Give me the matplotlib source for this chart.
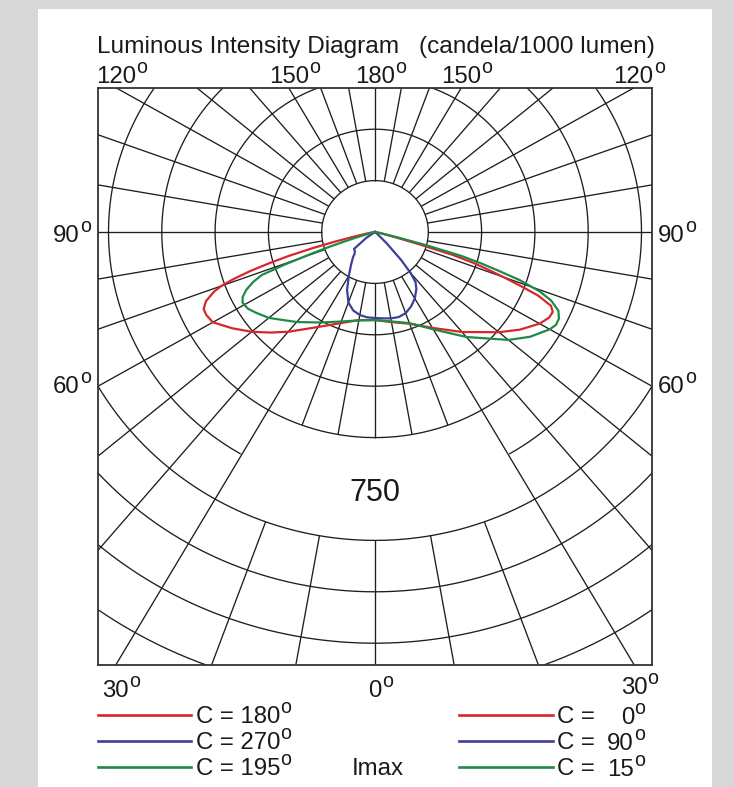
import numpy as np
import matplotlib
matplotlib.use('Agg')
from matplotlib import pyplot as plt
from matplotlib.lines import Line2D
from matplotlib.patches import Rectangle

"""
    Luminous intensity diagram: polar curves (cd/1000 lm) over a clipped polar grid.
    gamma is measured from the nadir, C planes left / right of the vertical.
"""

# left half (C = 180, 270, 195) and right half (C = 0, 90, 15)
C180_GAMMA = [0, 10, 20, 30, 40, 45, 50, 55, 60, 63, 65, 67, 69, 70, 71, 72, 73, 74, 75, 76, 77, 79, 82, 90]
C180_CD = [257, 261, 283, 320, 380, 415, 453, 490, 527, 533, 532, 517, 485, 460, 420, 370, 310, 250, 180, 115, 65, 25, 8, 0]
C0_GAMMA = [0, 10, 20, 30, 40, 50, 55, 60, 63, 65, 66.5, 68, 69, 70, 71, 72, 73, 74, 75, 77, 80, 90]
C0_CD = [257, 267, 285, 323, 381, 455, 497, 535, 550, 552, 540, 495, 438, 385, 335, 290, 230, 120, 60, 20, 5, 0]

C270_GAMMA = [0, 5, 10, 15, 20, 25, 30, 35, 38, 40, 42, 45, 50, 55, 60]
C270_CD = [251, 250, 246, 237, 219, 186, 147, 118, 104, 96, 86, 80, 77, 30, 0]
C90_GAMMA = [0, 5, 10, 15, 20, 25, 30, 35, 38, 40, 42, 45, 48, 50]
C90_CD = [251, 253, 256, 257, 252, 240, 224, 203, 185, 155, 110, 45, 10, 0]

C195_GAMMA = [0, 10, 20, 30, 40, 50, 55, 58, 61, 63, 65, 67, 68.5, 69.5, 70.5, 71.5, 73, 76, 90]
C195_CD = [257, 262, 278, 305, 343, 390, 410, 422, 426, 418, 400, 372, 342, 270, 190, 130, 60, 10, 0]
C15_GAMMA = [0, 10, 20, 30, 40, 50, 55, 60, 62, 64, 66, 68, 69.5, 71, 72, 73, 74, 75, 76, 78, 90]
C15_CD = [257, 265, 283, 328, 400, 490, 533, 568, 577, 576, 565, 535, 495, 430, 365, 310, 250, 150, 70, 15, 0]

LEFT_NAMES = ['C = 180', 'C = 270', 'C = 195']
RIGHT_NAMES = ['0', '90', '15']
COLORS = ['#d8262e', '#3d3f98', '#1f8a45']

RING = 150          # cd/1000 lm per ring
RING_COUNT = 10
SPOKE_STEP = 10
LABEL_RING = 5      # ring that carries the '750' label
BLANK_HALF = 30     # the label window spans +-30 deg around the nadir

TOP_LABELS = [120, 150, 180, 150, 120]
TOP_GAMMA = [-120, -150, 180, 150, 120]

W, H = 734, 787
FONT = 'Liberation Sans'
SIZE = 17.3
INK = '#1a1a1a'

# frame and pole in pixels, px per ring (the original print is a bit wider than tall)
BOX = (98, 88, 652, 665)
POLE = (375, 232)
SX, SY = 53.3, 51.4

fig = plt.figure(figsize=(W / 100, H / 100), dpi=100, facecolor='#d8d8d8')
fig.add_artist(Rectangle((38 / W, 0), (712 - 38) / W, 1 - 9 / H, transform=fig.transFigure,
                         facecolor='white', edgecolor='none', zorder=0))

ax = fig.add_axes([BOX[0] / W, 1 - BOX[3] / H, (BOX[2] - BOX[0]) / W, (BOX[3] - BOX[1]) / H])
ax.set_xlim((BOX[0] - POLE[0]) / SX * RING, (BOX[2] - POLE[0]) / SX * RING)
ax.set_ylim(-(BOX[3] - POLE[1]) / SY * RING, (POLE[1] - BOX[1]) / SY * RING)
ax.set_xticks([])
ax.set_yticks([])
for s in ax.spines.values():
    s.set_color('#333333')
    s.set_linewidth(1.3)

grid_kw = dict(color='#1e1e1e', lw=0.95, zorder=1, solid_capstyle='butt')

# rings
t = np.radians(np.linspace(-180, 180, 1441))
for k in range(1, RING_COUNT + 1):
    x = k * RING * np.sin(t)
    y = -k * RING * np.cos(t)
    if k == LABEL_RING:
        x = np.where(np.abs(np.degrees(t)) < BLANK_HALF, np.nan, x)
    ax.plot(x, y, **grid_kw)

# spokes, starting at the first ring, with a gap where the label sits
for g in range(-180 + SPOKE_STEP, 180 + SPOKE_STEP, SPOKE_STEP):
    a = np.radians(g)
    if abs(g) < BLANK_HALF:
        spans = [(1, LABEL_RING - 1), (LABEL_RING + 1, 2 * RING_COUNT)]
    else:
        spans = [(1, 2 * RING_COUNT)]
    for r0, r1 in spans:
        r = np.array([r0, r1]) * RING
        ax.plot(r * np.sin(a), -r * np.cos(a), **grid_kw)

ax.text(0, -LABEL_RING * RING - 12, str(LABEL_RING * RING), ha='center', va='center',
        fontsize=22, family=FONT, color=INK)


def curve(left_g, left_cd, right_g, right_cd):
    gl = np.radians(left_g)[::-1]
    cl = np.array(left_cd, float)[::-1]
    gr = np.radians(right_g)
    cr = np.array(right_cd, float)
    x = np.concatenate([-cl * np.sin(gl), cr * np.sin(gr)])
    y = np.concatenate([-cl * np.cos(gl), -cr * np.cos(gr)])
    return x, y


curves = [(C180_GAMMA, C180_CD, C0_GAMMA, C0_CD),
          (C270_GAMMA, C270_CD, C90_GAMMA, C90_CD),
          (C195_GAMMA, C195_CD, C15_GAMMA, C15_CD)]
for data, col in zip(curves, COLORS):
    ax.plot(*curve(*data), color=col, lw=1.6, zorder=3, solid_joinstyle='round')

renderer = fig.canvas.get_renderer()


def deg_text(x, y, value, ha='left', size=SIZE):
    # number plus a raised small 'o' standing for the degree sign
    num = fig.text(x / W, 1 - y / H, value, ha=ha, va='baseline', fontsize=size,
                   family=FONT, color=INK)
    x1 = num.get_window_extent(renderer).x1
    fig.text(x1 / W, 1 - (y - 0.43 * size * 1.39) / H, 'o', ha='left', va='baseline',
             fontsize=size * 0.82, family=FONT, color=INK)


fig.text(97 / W, 1 - 53 / H, 'Luminous Intensity Diagram', fontsize=SIZE + 0.3, family=FONT,
         va='baseline', color=INK)
fig.text(655 / W, 1 - 53 / H, '(candela/1000 lumen)', fontsize=SIZE + 0.3, family=FONT,
         va='baseline', ha='right', color=INK)

# angle labels sit centred on the spoke where it leaves the frame
y_top = ax.get_ylim()[1]
for lab, g in zip(TOP_LABELS, TOP_GAMMA):
    a = np.radians(g)
    xd = y_top * np.tan(np.pi - abs(a)) * np.sign(g) if abs(g) != 180 else 0.0
    xp = POLE[0] + xd / RING * SX
    deg_text(xp, 83, str(lab), ha='center')

y_bot = ax.get_ylim()[0]
for g, yb in zip([-30, 0, 30], [697, 697, 694]):
    xd = -y_bot * np.tan(np.radians(g))
    xp = POLE[0] + xd / RING * SX
    deg_text(xp, yb, str(abs(g)), ha='center')

deg_text(53, 242, '90')
deg_text(658, 242, '90')
deg_text(53, 393, '60')
deg_text(658, 393, '60')

# legend
rows = [715, 741, 767]
for yy, name, col in zip(rows, LEFT_NAMES, COLORS):
    fig.add_artist(Line2D([98 / W, 191 / W], [1 - yy / H] * 2, color=col, lw=1.9))
    deg_text(196, yy + 8, name)
for yy, name, col in zip(rows, RIGHT_NAMES, COLORS):
    fig.add_artist(Line2D([459 / W, 553 / W], [1 - yy / H] * 2, color=col, lw=1.9))
    fig.text(557 / W, 1 - (yy + 8) / H, 'C =', fontsize=SIZE, family=FONT, va='baseline',
             color=INK)
    deg_text(634, yy + 9, name, ha='right')

fig.text(352 / W, 1 - 775 / H, 'Imax', fontsize=SIZE, family=FONT, va='baseline', color=INK)

fig.savefig('out.png', dpi=100, facecolor=fig.get_facecolor())
